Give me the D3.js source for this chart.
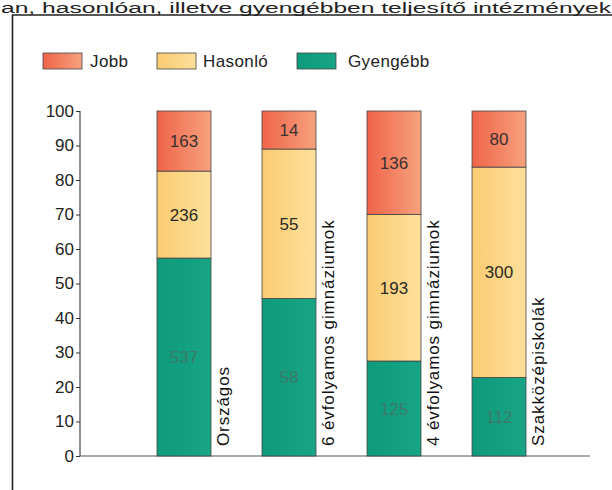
<!DOCTYPE html>
<html>
<head>
<meta charset="utf-8">
<script src="https://cdn.jsdelivr.net/npm/d3@7"></script>
<style>
  html, body { margin: 0; padding: 0; background: #fff; }
  svg { display: block; }
  text { font-family: "Liberation Sans", Arial, sans-serif; }
</style>
</head>
<body>
<svg id="chart" width="612" height="490"></svg>
<script>
// ---- data ----
const categories = ["Országos", "6 évfolyamos gimnáziumok", "4 évfolyamos gimnáziumok", "Szakközépiskolák"];
const seriesNames = ["Gyengébb", "Hasonló", "Jobb"];
const gyengebb = [537, 58, 125, 112];
const hasonlo  = [236, 55, 193, 300];
const jobb     = [163, 14, 136, 80];
const yTicks = [0, 10, 20, 30, 40, 50, 60, 70, 80, 90, 100];
const legendOrder = ["Jobb", "Hasonló", "Gyengébb"];
const titleText = "an, hasonlóan, illetve gyengébben teljesítő intézmények";

// ---- build table ----
const rows = categories.map((c, i) => {
  const total = gyengebb[i] + hasonlo[i] + jobb[i];
  return {
    cat: c,
    raw: { "Gyengébb": gyengebb[i], "Hasonló": hasonlo[i], "Jobb": jobb[i] },
    "Gyengébb": gyengebb[i] / total * 100,
    "Hasonló": hasonlo[i] / total * 100,
    "Jobb": jobb[i] / total * 100
  };
});

const svg = d3.select("#chart");
const defs = svg.append("defs");
function grad(id, c1, c2) {
  const g = defs.append("linearGradient").attr("id", id)
    .attr("x1", "0%").attr("x2", "100%").attr("y1", "0%").attr("y2", "0%");
  g.append("stop").attr("offset", "0%").attr("stop-color", c1);
  g.append("stop").attr("offset", "100%").attr("stop-color", c2);
}
grad("gJobb", "#ef6449", "#f6a27e");
grad("gHas", "#fbcb72", "#fde09c");
grad("gGy", "#0e9a7b", "#17a585");
const fills = { "Jobb": "url(#gJobb)", "Hasonló": "url(#gHas)", "Gyengébb": "url(#gGy)" };
const labelColors = { "Jobb": "#3a3030", "Hasonló": "#2a2a22", "Gyengébb": "#3e7a66" };

// ---- title (top line of the scanned page) ----
svg.append("text").attr("x", 1).attr("y", 13)
  .attr("font-size", 14).attr("fill", "#222")
  .attr("textLength", 610).attr("lengthAdjust", "spacingAndGlyphs")
  .text(titleText);

// ---- frame ----
svg.append("path").attr("d", "M12.5,490 L12.5,15 L612,15")
  .attr("fill", "none").attr("stroke", "#222").attr("stroke-width", 1.6);

// ---- scales ----
const x = d3.scaleBand().domain(categories).range([157, 526]).paddingInner(0.486).paddingOuter(0);
const y = d3.scaleLinear().domain([0, 100]).range([456, 111]);

// ---- y axis ----
const yAxis = d3.axisLeft(y).tickValues(yTicks).tickSize(4).tickPadding(2);
const gy = svg.append("g").attr("transform", "translate(80,0)").call(yAxis);
gy.select(".domain").attr("stroke", "#333").attr("stroke-width", 1.1).attr("d", `M0,${y(100)}V${y(0)}`);
gy.selectAll(".tick line").attr("stroke", "#333");
gy.selectAll(".tick text").attr("font-size", 17).attr("fill", "#222")
  .attr("font-family", "'Liberation Sans', Arial, sans-serif");

// baseline
svg.append("line").attr("x1", 80).attr("x2", 590).attr("y1", y(0)).attr("y2", y(0))
  .attr("stroke", "#555").attr("stroke-width", 1.2);

// ---- stacks ----
const stack = d3.stack().keys(seriesNames);
const series = stack(rows);

const layers = svg.append("g").selectAll("g").data(series).join("g");
layers.selectAll("rect").data(d => d.map(v => ({ key: d.key, v }))).join("rect")
  .attr("x", d => x(d.v.data.cat))
  .attr("width", x.bandwidth())
  .attr("y", d => y(d.v[1]))
  .attr("height", d => y(d.v[0]) - y(d.v[1]))
  .attr("fill", d => fills[d.key])
  .attr("stroke", "#444").attr("stroke-width", 0.8);

layers.selectAll("text").data(d => d.map(v => ({ key: d.key, v }))).join("text")
  .attr("x", d => x(d.v.data.cat) + x.bandwidth() / 2)
  .attr("y", d => (y(d.v[0]) + y(d.v[1])) / 2 + 6)
  .attr("text-anchor", "middle")
  .attr("font-size", 17)
  .attr("fill", d => labelColors[d.key])
  .text(d => d.v.data.raw[d.key]);

// ---- category labels (rotated) ----
svg.append("g").selectAll("text").data(categories).join("text")
  .attr("transform", d => `translate(${x(d) + x.bandwidth() + 18},446) rotate(-90)`)
  .attr("font-size", 17).attr("letter-spacing", 0.9).attr("fill", "#111")
  .text(d => d);

// ---- legend ----
const legSwX = [43, 157, 297];
const legTxX = [90, 203, 348];
const leg = svg.append("g").selectAll("g").data(legendOrder).join("g");
leg.append("rect").attr("x", (d, i) => legSwX[i]).attr("y", 53).attr("width", 39).attr("height", 16)
  .attr("fill", d => fills[d]).attr("stroke", "#444").attr("stroke-width", 0.8);
leg.append("text").attr("x", (d, i) => legTxX[i]).attr("y", 67)
  .attr("font-size", 17).attr("letter-spacing", 0.4).attr("fill", "#222").text(d => d);
</script>
</body>
</html>
